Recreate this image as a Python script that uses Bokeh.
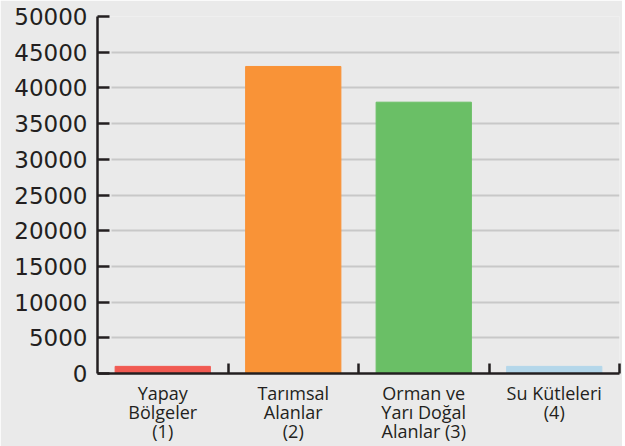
from bokeh.plotting import figure
from bokeh.models import Range1d, FixedTicker, NumeralTickFormatter, ColumnDataSource
from bokeh.embed import file_html
from bokeh.resources import INLINE

categories = ["Yapay\nBölgeler\n(1)", "Tarımsal\nAlanlar\n(2)", "Orman ve\nYarı Doğal\nAlanlar (3)", "Su Kütleleri\n(4)"]
values = [1000, 43000, 38000, 1000]
colors = ["#f15a52", "#f99337", "#6abf66", "#b4d7ea"]
y_ticks = list(range(0, 50001, 5000))

positions = [i + 0.5 for i in range(len(categories))]
src = ColumnDataSource(dict(x=positions, top=values, color=colors))

BG = "#eaeaea"
p = figure(width=622, height=446, output_backend="svg", toolbar_location=None,
           x_range=Range1d(0, len(categories)), y_range=Range1d(0, 50000),
           min_border_left=97, min_border_right=3, min_border_top=16, min_border_bottom=73,
           background_fill_color=BG, border_fill_color=BG, outline_line_color=None)

p.vbar(x="x", top="top", width=0.73, color="color", source=src)

# y axis
p.yaxis.ticker = FixedTicker(ticks=y_ticks)
p.yaxis.formatter = NumeralTickFormatter(format="0")
p.yaxis.major_tick_in = 12
p.yaxis.major_tick_out = 0
p.yaxis.minor_tick_line_color = None
p.yaxis.axis_line_width = 2.5
p.yaxis.major_tick_line_width = 2.5
p.yaxis.axis_line_color = "#231f20"
p.yaxis.major_tick_line_color = "#231f20"
p.yaxis.major_label_text_font = "DejaVu Sans"
p.yaxis.major_label_text_font_size = "23px"
p.yaxis.major_label_text_color = "#231f20"
p.yaxis.major_label_standoff = 10

# x axis
p.xaxis.ticker = FixedTicker(ticks=positions, minor_ticks=[float(i) for i in range(1, len(categories) + 1)])
p.xaxis.major_label_overrides = {pos: lab for pos, lab in zip(positions, categories)}
p.xaxis.major_tick_in = 0
p.xaxis.major_tick_out = 0
p.xaxis.minor_tick_in = 10
p.xaxis.minor_tick_out = 0
p.xaxis.minor_tick_line_width = 2.5
p.xaxis.minor_tick_line_color = "#231f20"
p.xaxis.axis_line_width = 2.5
p.xaxis.axis_line_color = "#231f20"
p.xaxis.major_label_text_font = "Open Sans"
p.xaxis.major_label_text_font_size = "18px"
p.xaxis.major_label_text_line_height = 0.8
p.xaxis.major_label_text_color = "#231f20"
p.xaxis.major_label_standoff = 7

# grid
p.xgrid.visible = False
p.ygrid.ticker = FixedTicker(ticks=y_ticks[1:-1])
p.ygrid.grid_line_color = "#c8c8c8"
p.ygrid.grid_line_width = 2
p.ygrid.cross_bounds = (0.107, len(categories))

open("out.html", "w").write(file_html(p, INLINE))
